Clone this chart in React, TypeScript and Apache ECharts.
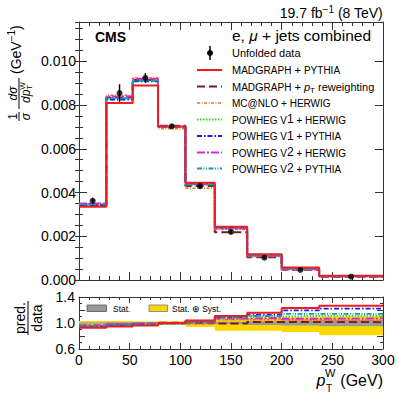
import React, { useEffect, useRef } from 'react';
import * as echarts from 'echarts';

// ---------- data ----------
const EDGES = [0, 27, 53, 78, 105, 134, 166, 200, 237, 300];
const CENTERS = [13.5, 40, 65.5, 91.5, 119.5, 150, 183, 218.5, 268.5];
const DATA = [0.00362, 0.00855, 0.00924, 0.00703, 0.00429, 0.0022, 0.00102, 0.00046, 0.00015];
const DATA_ERR = [0.00014, 0.0004, 0.00022, 0.0001, 0.00012, 0.00008, 0.00005, 0.00003, 0.00002];
const MG_PYTHIA = [0.00335, 0.0081, 0.0089, 0.00702, 0.00445, 0.00244, 0.00118, 0.000566, 0.00019];
const MG_REW = [0.00342, 0.00835, 0.00915, 0.00705, 0.0043, 0.00218, 0.001035, 0.000467, 0.000152];
const MCNLO_HERWIG = [0.00348, 0.00845, 0.00925, 0.00692, 0.0042, 0.00231, 0.00107, 0.000478, 0.000156];
const PH1_HERWIG = [0.00345, 0.0083, 0.0091, 0.007, 0.00436, 0.00237, 0.00112, 0.00051, 0.0001665];
const PH1_PYTHIA = [0.00342, 0.00825, 0.00908, 0.007, 0.0044, 0.0024, 0.00115, 0.00055, 0.000183];
const PH2_HERWIG = [0.0035, 0.0084, 0.0092, 0.00702, 0.00438, 0.00235, 0.0011, 0.00049, 0.0001605];
const PH2_PYTHIA = [0.00346, 0.00832, 0.00912, 0.007, 0.00438, 0.00238, 0.00113, 0.000525, 0.000171];
const SYS_LO = [0.97, 0.97, 0.975, 0.975, 0.94, 0.88, 0.88, 0.86, 0.81];
const SYS_HI = [1.03, 1.03, 1.025, 1.025, 1.05, 1.07, 1.08, 1.09, 1.1];
const STAT_LO = [0.99, 0.99, 0.99, 0.99, 0.985, 0.98, 0.97, 0.96, 0.95];
const STAT_HI = [1.01, 1.01, 1.01, 1.01, 1.015, 1.02, 1.03, 1.04, 1.05];
const Y_MAIN_TICKS = ['0.000', '0.002', '0.004', '0.006', '0.008', '0.010'];
const Y_RATIO_TICKS = ['0.6', '1.0', '1.4'];

const FONT = "'Liberation Sans', Arial, sans-serif";

const MODELS = [
  { key: 'rew', vals: MG_REW, color: '#7a1c1c', dash: [8, 4], width: 2 },
  { key: 'mcnlo', vals: MCNLO_HERWIG, color: '#e8782a', dash: [3, 1.5, 1, 1.5], width: 1.5 },
  { key: 'ph1h', vals: PH1_HERWIG, color: '#22dd22', dash: [1.5, 1.5], width: 1.8 },
  { key: 'ph1p', vals: PH1_PYTHIA, color: '#1c1cee', dash: [5, 2, 1.5, 2], width: 1.8 },
  { key: 'ph2h', vals: PH2_HERWIG, color: '#dd22dd', dash: [8, 2, 2, 2], width: 1.8 },
  { key: 'ph2p', vals: PH2_PYTHIA, color: '#11a0a0', dash: [5, 1.5, 1, 1.5, 1, 1.5], width: 1.8 },
  { key: 'mg', vals: MG_PYTHIA, color: '#ee1c25', dash: 'solid', width: 2 },
];

let _ctx: CanvasRenderingContext2D | null = null;
function measure(text: string, font: string) {
  if (!_ctx) _ctx = document.createElement('canvas').getContext('2d');
  _ctx!.font = font;
  return _ctx!.measureText(text).width;
}
function fs(size: number, style = '') {
  return `${style} ${size}px ${FONT}`.trim();
}
function txt(x: number, y: number, text: string, font: string, align = 'left', valign = 'middle', fill = '#000') {
  return {
    type: 'text', x, y, silent: true, z: 100,
    style: { text, font, fill, align, verticalAlign: valign, textAlign: align, textVerticalAlign: valign },
  };
}
// pieces: [text, size, style, dy]
function runs(x: number, baseline: number, pieces: any[], align = 'left') {
  const widths = pieces.map((p) => measure(p[0], fs(p[1], p[2] || '')));
  const total = widths.reduce((a, b) => a + b, 0);
  let cx = align === 'right' ? x - total : x;
  const els: any[] = [];
  pieces.forEach((p, i) => {
    const size = p[1];
    els.push(txt(cx, baseline - 0.3465 * size + (p[3] || 0), p[0], fs(size, p[2] || '')));
    cx += widths[i];
  });
  return els;
}
function hline(x1: number, y1: number, x2: number, y2: number, color: string, width: number, dash: any) {
  return { type: 'line', silent: true, z: 100, shape: { x1, y1, x2, y2 }, style: { stroke: color, lineWidth: width, lineDash: dash === 'solid' ? null : dash } };
}

const stepData = (vals: number[]) => EDGES.map((e, i) => [e, vals[Math.min(i, vals.length - 1)]]);

export default function App() {
  const ref = useRef<HTMLDivElement>(null);
  useEffect(() => {
    const chart = echarts.init(ref.current!, null, { renderer: 'svg' });
    const axisLine = { show: true, onZero: false, lineStyle: { color: '#333', width: 1 } };
    const xAx = (grid: number, pos: string, labels: boolean, big: boolean) => ({
      type: 'value', gridIndex: grid, position: pos, min: 0, max: 300, interval: 50,
      axisLine,
      axisTick: { show: true, inside: true, length: big ? 8 : 6, lineStyle: { color: '#333' } },
      minorTick: { show: true, splitNumber: 5, length: big ? 4 : 3, lineStyle: { color: '#333' } },
      splitLine: { show: false },
      axisLabel: { show: labels, fontSize: 14, color: '#000', fontFamily: FONT, margin: 4 },
    });
    const yMain = (pos: string, major: boolean, labels: boolean) => ({
      type: 'value', gridIndex: 0, position: pos, min: 0, max: 0.0118, interval: major ? 0.002 : 0.0005,
      axisLine: major ? axisLine : { show: false },
      axisTick: { show: true, inside: true, length: major ? 8 : 4, lineStyle: { color: '#333' } },
      splitLine: { show: false },
      axisLabel: {
        show: labels, fontSize: 14, color: '#000', fontFamily: FONT, margin: 3, showMaxLabel: false,
        formatter: (v: number) => {
          const s = v.toFixed(3);
          return Y_MAIN_TICKS.includes(s) && Math.abs(v - parseFloat(s)) < 1e-7 ? s : '';
        },
      },
    });
    const yRatio = (pos: string, labels: boolean) => ({
      type: 'value', gridIndex: 1, position: pos, min: 0.6, max: 1.4, interval: 0.2,
      axisLine,
      axisTick: { show: true, inside: true, length: 6, lineStyle: { color: '#333' } },
      minorTick: { show: true, splitNumber: 2, length: 3, lineStyle: { color: '#333' } },
      splitLine: { show: false },
      axisLabel: {
        show: labels, fontSize: 14, color: '#000', fontFamily: FONT, margin: 4,
        formatter: (v: number) => {
          const s = v.toFixed(1);
          return Y_RATIO_TICKS.includes(s) ? s : '';
        },
      },
    });

    const series: any[] = [];
    const band = (lo: number[], hi: number[], color: string) => ({
      type: 'custom', xAxisIndex: 2, yAxisIndex: 4, clip: true, z: 1,
      data: lo.map((l, i) => [EDGES[i], EDGES[i + 1], l, hi[i]]),
      encode: { x: [0, 1], y: [2, 3] },
      renderItem: (_p: any, api: any) => {
        const a = api.coord([api.value(0), api.value(3)]);
        const b = api.coord([api.value(1), api.value(2)]);
        return { type: 'rect', shape: { x: a[0], y: a[1], width: b[0] - a[0], height: b[1] - a[1] }, style: { fill: color } };
      },
    });
    series.push(band(SYS_LO, SYS_HI, '#ffd700'));
    series.push(band(STAT_LO, STAT_HI, '#9a9a9a'));

    MODELS.forEach((m) => {
      const ls = { color: m.color, width: m.width, type: m.dash };
      series.push({
        type: 'line', xAxisIndex: 0, yAxisIndex: 0, step: 'end', symbol: 'none', z: 3,
        data: stepData(m.vals), lineStyle: ls, itemStyle: { color: m.color },
      });
      series.push({
        type: 'line', xAxisIndex: 2, yAxisIndex: 4, step: 'end', symbol: 'none', z: 3,
        data: stepData(m.vals.map((v, i) => v / DATA[i])), lineStyle: ls, itemStyle: { color: m.color },
      });
    });
    series.push({
      type: 'custom', xAxisIndex: 0, yAxisIndex: 0, z: 5,
      data: DATA.map((d, i) => [CENTERS[i], d - DATA_ERR[i], d + DATA_ERR[i]]),
      encode: { x: 0, y: [1, 2] },
      renderItem: (_p: any, api: any) => {
        const a = api.coord([api.value(0), api.value(1)]);
        const b = api.coord([api.value(0), api.value(2)]);
        return { type: 'line', shape: { x1: a[0], y1: a[1], x2: b[0], y2: b[1] }, style: { stroke: '#000', lineWidth: 1.5 } };
      },
    });
    series.push({
      type: 'scatter', xAxisIndex: 0, yAxisIndex: 0, z: 6, symbol: 'circle', symbolSize: 6,
      itemStyle: { color: '#000' },
      data: DATA.map((d, i) => [CENTERS[i], d]),
    });

    // ---------- graphics ----------
    const g: any[] = [];
    g.push(...runs(95, 41.5, [['CMS', 14, 'bold']]));
    g.push(...runs(383, 17.5, [['19.7 fb', 14], ['\u22121', 10, '', -5], [' (8 TeV)', 14]], 'right'));
    g.push(...runs(232, 41, [['e, ', 15.5], ['\u03bc', 15.5, 'italic'], [' + jets combined', 15.5]]));

    const rowY = [53, 70, 86.5, 103, 119.5, 136, 152.5, 168.5];
    const lx1 = 197, lx2 = 222;
    g.push(hline(210, rowY[0] - 7, 210, rowY[0] + 7, '#000', 1.5, 'solid'));
    g.push({ type: 'circle', silent: true, z: 100, shape: { cx: 210, cy: rowY[0], r: 3 }, style: { fill: '#000' } });
    g.push(...runs(232, rowY[0] + 4, [['Unfolded data', 11]]));
    const mgPieces = [['M', 11], ['AD', 10], ['G', 11], ['RAPH', 10]];
    const legendRows: any[] = [
      { m: 'mg', pieces: [...mgPieces, [' + ', 11], ['PYTHIA', 10]] },
      { m: 'rew', pieces: [...mgPieces, [' + ', 11], ['p', 11, 'italic'], ['T', 8, '', 2.5], [' reweighting', 11]] },
      { m: 'mcnlo', pieces: [['MC@NLO + HERWIG', 10]] },
      { m: 'ph1h', pieces: [['POWHEG V', 10], ['1', 12], [' + HERWIG', 10]] },
      { m: 'ph1p', pieces: [['POWHEG V', 10], ['1', 12], [' + PYTHIA', 10]] },
      { m: 'ph2h', pieces: [['POWHEG V', 10], ['2', 12], [' + HERWIG', 10]] },
      { m: 'ph2p', pieces: [['POWHEG V', 10], ['2', 12], [' + PYTHIA', 10]] },
    ];
    legendRows.forEach((r, i) => {
      const m = MODELS.find((mm) => mm.key === r.m)!;
      const y = rowY[i + 1];
      g.push(hline(lx1, y, lx2, y, m.color, m.width, m.dash));
      g.push(...runs(232, y + 4, r.pieces));
    });

    const gevW = measure('(GeV', fs(14));
    const m1W = measure('\u22121', fs(10));
    const dpW = measure('dp', fs(12, 'italic'));
    g.push({
      type: 'group', x: 19, y: 121, rotation: Math.PI / 2, silent: true,
      children: [
        txt(4.5, -6.5, '1', fs(12), 'center'),
        hline(0, 0, 9, 0, '#000', 1, 'solid'),
        txt(4.5, 7, '\u03c3', fs(12, 'italic'), 'center'),
        txt(27.5, -6.5, 'd\u03c3', fs(12, 'italic'), 'center'),
        hline(12, 0, 43, 0, '#000', 1, 'solid'),
        txt(18, 7, 'dp', fs(12, 'italic')),
        txt(18 + dpW, 3, 'W', fs(8)),
        txt(18 + dpW, 10.5, 'T', fs(8)),
        txt(47, -3, '(GeV', fs(14)),
        txt(47 + gevW, -8, '\u22121', fs(10)),
        txt(47 + gevW + m1W, -3, ')', fs(14)),
      ],
    });
    g.push({
      type: 'group', x: 28, y: 318, rotation: Math.PI / 2, silent: true,
      children: [
        txt(0, -8, 'pred.', fs(14), 'center'),
        hline(-17, 0, 17, 0, '#000', 1, 'solid'),
        txt(0, 9, 'data', fs(14), 'center'),
      ],
    });
    const gW = measure(' (GeV)', fs(16));
    const xG = 383 - gW;
    const xW = xG - measure('W', fs(11)) - 0.5;
    const xP = xW - measure('p', fs(16, 'italic')) + 0.5;
    g.push(txt(xG, 380.5, ' (GeV)', fs(16)));
    g.push(txt(xP, 380.5, 'p', fs(16, 'italic')));
    g.push(txt(xW, 373, 'W', fs(11)));
    g.push(txt(xW + 1, 388, 'T', fs(10)));
    g.push({ type: 'rect', silent: true, z: 100, shape: { x: 87, y: 305, width: 19.5, height: 6.5 }, style: { fill: '#9a9a9a', stroke: '#555', lineWidth: 0.8 } });
    g.push(txt(113, 308.5, 'Stat.', fs(8.5)));
    g.push({ type: 'rect', silent: true, z: 100, shape: { x: 149, y: 305, width: 18.5, height: 6.5 }, style: { fill: '#ffd700', stroke: '#777', lineWidth: 0.8 } });
    g.push(txt(172, 308.5, 'Stat. \u2295 Syst.', fs(8.5)));

    chart.setOption({
      animation: false,
      backgroundColor: '#fff',
      grid: [
        { left: 79, top: 22, width: 304, height: 258 },
        { left: 79, top: 297, width: 304, height: 52 },
      ],
      xAxis: [xAx(0, 'bottom', false, true), xAx(0, 'top', false, true), xAx(1, 'bottom', true, false), xAx(1, 'top', false, false)],
      yAxis: [
        yMain('left', true, true), yMain('left', false, false), yMain('right', true, false), yMain('right', false, false),
        yRatio('left', true), yRatio('right', false),
      ],
      series,
      graphic: g,
    });
    return () => chart.dispose();
  }, []);
  return <div ref={ref} style={{ position: 'fixed', left: 0, top: 0, width: 399, height: 399, background: '#fff' }} />;
}
